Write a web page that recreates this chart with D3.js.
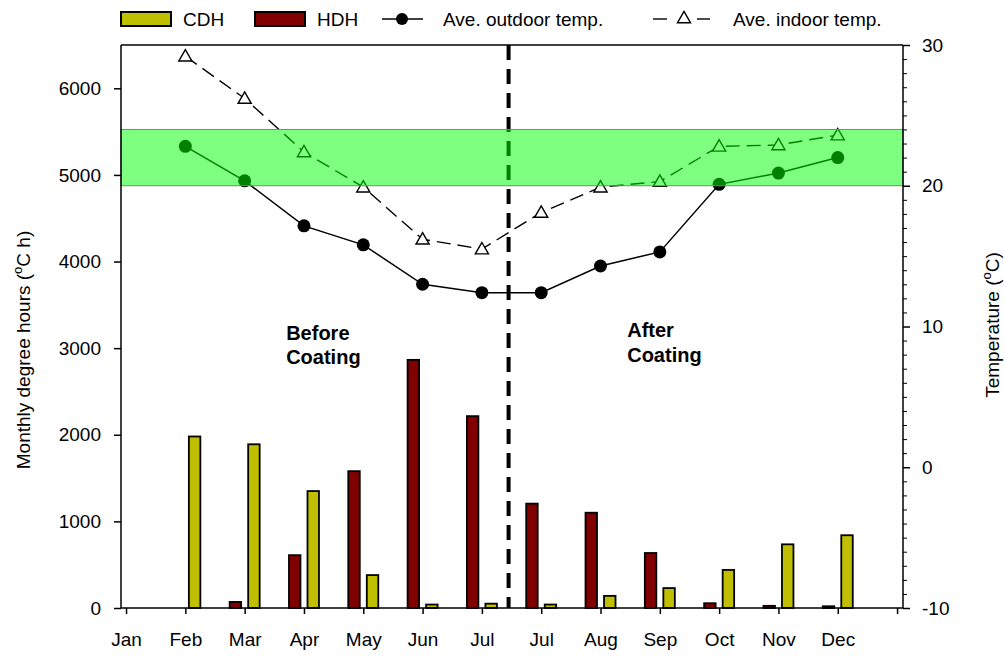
<!DOCTYPE html>
<html>
<head>
<meta charset="utf-8">
<script src="https://cdn.jsdelivr.net/npm/d3@7"></script>
<style>
  html, body { margin: 0; padding: 0; background: #fff; }
  svg { display: block; font-family: "Liberation Sans", Arial, sans-serif; }
</style>
</head>
<body>
<svg id="chart" width="1004" height="657"></svg>
<script>
// ---- data ----
const months = ["Jan","Feb","Mar","Apr","May","Jun","Jul","Jul","Aug","Sep","Oct","Nov","Dec"];
const cdh = [null, 1980, 1890, 1350, 380, 40, 50, 40, 140, 230, 440, 735, 840];
const hdh = [null, 0, 70, 610, 1580, 2865, 2215, 1205, 1100, 635, 55, 25, 20];
const outdoorTemp = [null, 22.8, 20.35, 17.15, 15.8, 13.0, 12.4, 12.4, 14.3, 15.3, 20.1, 20.9, 22.0];
const indoorTemp  = [null, 29.2, 26.2, 22.4, 19.9, 16.2, 15.5, 18.1, 19.9, 20.3, 22.8, 22.9, 23.6];
const leftTicks = [0, 1000, 2000, 3000, 4000, 5000, 6000];
const rightTicks = [-10, 0, 10, 20, 30];
const comfortBand = [20, 24];
const coatingDivide = 6.45; // index position between the two "Jul"

const svg = d3.select("#chart");
const L = 121, R = 903, T = 45, B = 608;

const x = d3.scaleLinear().domain([-0.085, 13.1]).range([L, R]);
const yL = d3.scaleLinear().domain([0, 6500]).range([B, T]);
const yR = d3.scaleLinear().domain([-10, 30]).range([B, T]);
const sub = d3.scaleBand().domain(["HDH","CDH"]).range([-15, 15]).paddingInner(0.38);

const CDH_COLOR = "#bfbf00", HDH_COLOR = "#800000";
const FS = 19;

// ---- bars ----
const barData = [];
months.forEach((m, i) => {
  if (hdh[i]) barData.push({i, key: "HDH", v: hdh[i]});
  if (cdh[i]) barData.push({i, key: "CDH", v: cdh[i]});
});
svg.append("g").selectAll("rect").data(barData).join("rect")
  .attr("x", d => x(d.i) + sub(d.key))
  .attr("width", sub.bandwidth())
  .attr("y", d => yL(d.v))
  .attr("height", d => yL(0) - yL(d.v))
  .attr("fill", d => d.key === "CDH" ? CDH_COLOR : HDH_COLOR)
  .attr("stroke", "#000").attr("stroke-width", 1.8);

// ---- lines ----
const pts = arr => arr.map((v, i) => ({i, v})).filter(d => d.v != null);
const line = d3.line().x(d => x(d.i)).y(d => yR(d.v));

svg.append("path").datum(pts(indoorTemp)).attr("d", line)
  .attr("fill", "none").attr("stroke", "#000").attr("stroke-width", 1.4)
  .attr("stroke-dasharray", "14,7");
svg.append("path").datum(pts(outdoorTemp)).attr("d", line)
  .attr("fill", "none").attr("stroke", "#000").attr("stroke-width", 1.5);

const tri = d3.symbol().type(d3.symbolTriangle).size(75);
svg.append("g").selectAll("path").data(pts(indoorTemp)).join("path")
  .attr("d", tri)
  .attr("transform", d => `translate(${x(d.i)},${yR(d.v) + 1})`)
  .attr("fill", "#fff").attr("stroke", "#000").attr("stroke-width", 1.4);
svg.append("g").selectAll("circle").data(pts(outdoorTemp)).join("circle")
  .attr("cx", d => x(d.i)).attr("cy", d => yR(d.v)).attr("r", 6.5)
  .attr("fill", "#000");

// ---- coating divider ----
svg.append("line")
  .attr("x1", x(coatingDivide)).attr("x2", x(coatingDivide))
  .attr("y1", T).attr("y2", B)
  .attr("stroke", "#000").attr("stroke-width", 4).attr("stroke-dasharray", "15,9");

// ---- comfort band (semi-transparent over everything) ----
svg.append("rect")
  .attr("x", L).attr("width", R - L)
  .attr("y", yR(comfortBand[1])).attr("height", yR(comfortBand[0]) - yR(comfortBand[1]))
  .attr("fill", "#00ff00").attr("fill-opacity", 0.5)
  .attr("stroke", "#808080").attr("stroke-width", 1);

// ---- frame & axes ----
svg.append("line").attr("x1", L).attr("x2", R).attr("y1", T).attr("y2", T)
  .attr("stroke", "#000").attr("stroke-width", 1.5);

const fmt = d => String(d);
const axL = svg.append("g").attr("transform", `translate(${L},0)`)
  .call(d3.axisLeft(yL).tickValues(leftTicks).tickSize(7).tickPadding(13).tickFormat(fmt));
const axR = svg.append("g").attr("transform", `translate(${R},0)`)
  .call(d3.axisRight(yR).tickValues(rightTicks).tickSize(7).tickPadding(12).tickFormat(fmt));
svg.append("g").attr("transform", `translate(${R},0)`)
  .call(d3.axisRight(yR).tickValues(d3.range(-10, 31, 1).filter(v => v % 10 !== 0)).tickSize(4).tickFormat(""))
  .call(g => g.select(".domain").remove());
const axB = svg.append("g").attr("transform", `translate(0,${B})`)
  .call(d3.axisBottom(x).tickValues(d3.range(0, 14)).tickSize(6).tickPadding(19)
    .tickFormat(i => months[i] || ""));

[axL, axR, axB].forEach(g => {
  g.select(".domain").attr("stroke-width", 1.5);
  g.selectAll(".tick line").attr("stroke-width", 1.5);
  g.selectAll(".tick text").attr("font-size", FS).attr("fill", "#000")
    .attr("font-family", "'Liberation Sans', Arial, sans-serif");
});
axL.select(".domain").attr("d", `M0,${B}V${T}`);
axR.select(".domain").attr("d", `M0,${B}V${T}`);
axB.select(".domain").attr("d", `M${L},0H${R}`);

// ---- axis titles ----
const ltitle = svg.append("text")
  .attr("transform", `translate(30,350) rotate(-90)`)
  .attr("text-anchor", "middle").attr("font-size", 19).attr("fill", "#000");
ltitle.append("tspan").text("Monthly degree hours (");
ltitle.append("tspan").text("o").attr("font-size", 13).attr("dy", -8);
ltitle.append("tspan").text("C h)").attr("dy", 8);

const rtitle = svg.append("text")
  .attr("transform", `translate(999,325) rotate(-90)`)
  .attr("text-anchor", "middle").attr("font-size", 19).attr("fill", "#000");
rtitle.append("tspan").text("Temperature (");
rtitle.append("tspan").text("o").attr("font-size", 13).attr("dy", -8);
rtitle.append("tspan").text("C)").attr("dy", 8);

// ---- annotations ----
const ann = [
  {lines: ["Before", "Coating"], x: 2.7, y: [340, 364]},
  {lines: ["After", "Coating"], x: 8.45, y: [337, 362]}
];
ann.forEach(a => {
  a.lines.forEach((t, k) => {
    svg.append("text").attr("x", x(a.x)).attr("y", a.y[k])
      .attr("font-size", 20).attr("font-weight", "bold").attr("fill", "#000").text(t);
  });
});

// ---- legend ----
const lg = svg.append("g");
const ly = 19;
function swatch(x0, color, label) {
  lg.append("rect").attr("x", x0).attr("y", ly - 7).attr("width", 50).attr("height", 14)
    .attr("fill", color).attr("stroke", "#000").attr("stroke-width", 2);
  lg.append("text").attr("x", x0 + 62).attr("y", ly + 7).attr("font-size", FS).text(label);
}
swatch(121, CDH_COLOR, "CDH");
swatch(255, HDH_COLOR, "HDH");
lg.append("line").attr("x1", 382).attr("x2", 423).attr("y1", ly).attr("y2", ly)
  .attr("stroke", "#000").attr("stroke-width", 1.5);
lg.append("circle").attr("cx", 402).attr("cy", ly).attr("r", 6).attr("fill", "#000");
lg.append("text").attr("x", 443).attr("y", ly + 7).attr("font-size", FS).text("Ave. outdoor temp.");
lg.append("line").attr("x1", 653).attr("x2", 667).attr("y1", ly).attr("y2", ly)
  .attr("stroke", "#000").attr("stroke-width", 1.4);
lg.append("line").attr("x1", 697).attr("x2", 710).attr("y1", ly).attr("y2", ly)
  .attr("stroke", "#000").attr("stroke-width", 1.4);
lg.append("path").attr("d", tri).attr("transform", `translate(684,${ly})`)
  .attr("fill", "#fff").attr("stroke", "#000").attr("stroke-width", 1.4);
lg.append("text").attr("x", 733).attr("y", ly + 7).attr("font-size", FS).text("Ave. indoor temp.");
</script>
</body>
</html>
